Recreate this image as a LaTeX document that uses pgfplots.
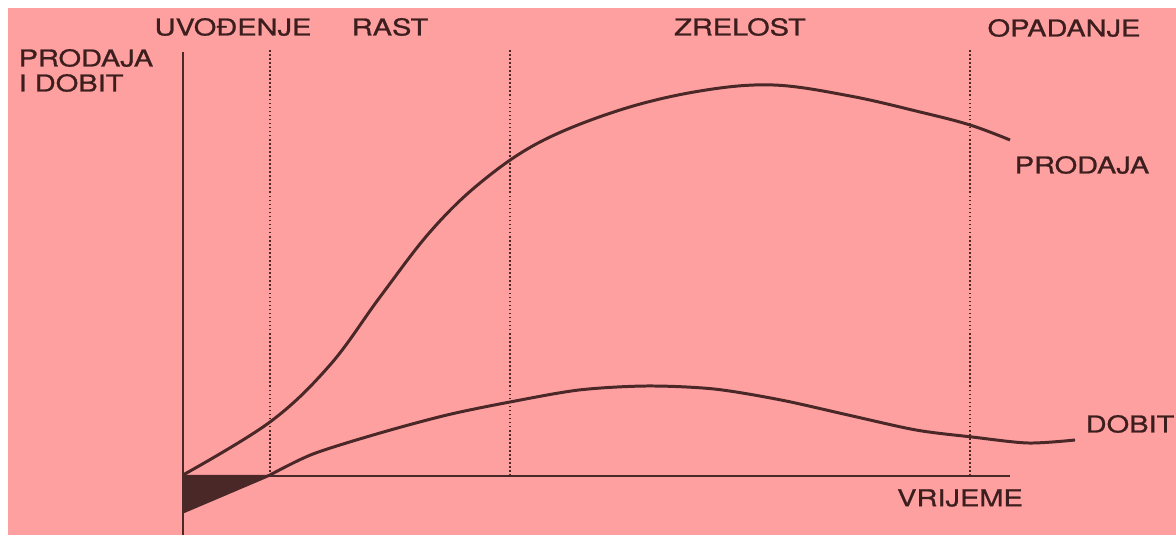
\documentclass[border=0pt]{standalone}
\usepackage{pgfplots}
\pgfplotsset{compat=1.18}
\usepackage{fontspec}
\setmainfont{TeX Gyre Heros}[FakeStretch=1.25, FakeBold=1]
\definecolor{bgpink}{HTML}{FFA0A0}
\definecolor{dk}{HTML}{4A2828}
\definecolor{txt}{HTML}{3C1E1E}
\tikzset{lbl/.style={font=\fontsize{6.6}{8}\selectfont, text=txt, inner sep=0pt}}
\begin{document}
\begin{tikzpicture}
\begin{axis}[
  scale only axis, width=11.76cm, height=5.35cm,
  xmin=0, xmax=1176, ymin=0, ymax=535,
  hide axis, xtick=\empty, ytick=\empty, clip=false,
]
% background
\fill[bgpink] (axis cs:0,0) rectangle (axis cs:1176,535);
\fill[white] (axis cs:0,0) rectangle (axis cs:8,535);
\fill[white] (axis cs:0,527) rectangle (axis cs:1176,535);
% loss triangle
\addplot[fill=dk, draw=none] coordinates {(183,60) (270,60) (183,23)} -- cycle;
% dotted phase separators
\addplot[dk, line width=0.55pt, dash pattern=on 0.45pt off 0.7pt] coordinates {(270,59) (270,485)};
\addplot[dk, line width=0.55pt, dash pattern=on 0.45pt off 0.7pt] coordinates {(510,59) (510,485)};
\addplot[dk, line width=0.55pt, dash pattern=on 0.45pt off 0.7pt] coordinates {(970,59) (970,485)};
% axes
\addplot[dk, line width=0.6pt] coordinates {(183,0) (183,483)};
\addplot[dk, line width=0.6pt] coordinates {(183,59) (1010,59)};
% PRODAJA
\addplot[dk, line width=0.85pt, smooth, tension=0.6] coordinates {
(183,60) (270,113) (330,170) (380,238) (430,303) (480,352) (540,393) (620,425)
(700,444) (773,450) (850,439) (920,423) (970,410) (1010,395)};
% DOBIT
\addplot[dk, line width=0.85pt] coordinates {(183,23) (270,60)};
\addplot[dk, line width=0.85pt, smooth, tension=0.5] coordinates {
(270,60) (313,81) (380,102) (447,120) (510,133) (579,145) (647,149)
(714,146) (781,135) (848,120) (916,105) (972,98) (1028,92) (1075,95)};
% texts
\node[lbl] at (axis cs:233,508) {UVOĐENJE};
\node[lbl] at (axis cs:390,508) {RAST};
\node[lbl] at (axis cs:740,508) {ZRELOST};
\node[lbl] at (axis cs:1064,507) {OPADANJE};
\node[lbl, anchor=west] at (axis cs:18,477) {PRODAJA};
\node[lbl, anchor=west] at (axis cs:18,452) {I DOBIT};
\node[lbl] at (axis cs:1082,370) {PRODAJA};
\node[lbl] at (axis cs:1130,111) {DOBIT};
\node[lbl] at (axis cs:960,37) {VRIJEME};
\end{axis}
\end{tikzpicture}
\end{document}
